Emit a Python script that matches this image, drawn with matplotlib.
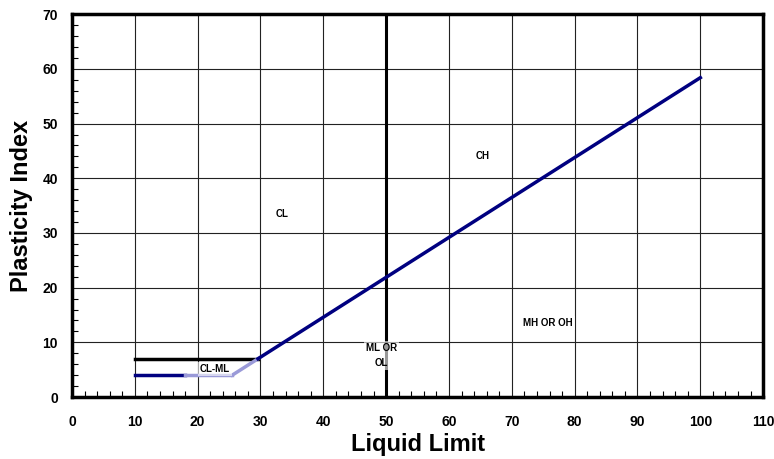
import matplotlib
matplotlib.use('Agg')
import matplotlib.pyplot as plt
from matplotlib.ticker import MultipleLocator

plt.rcParams['font.family'] = ['Liberation Sans', 'DejaVu Sans']
plt.rcParams['font.weight'] = 'bold'

# A-line and U-line style boundaries
a_line_x = [29.6, 100]
a_line_y = [7.0, 58.4]
a_low_x = [25.5, 29.6]
a_low_y = [4.0, 7.0]
flat4_solid_x = [10, 18]
flat4_faint_x = [18, 25.5]
flat4_y = 4.0
flat7_x = [10, 29.6]
flat7_y = 7.0
ll_split_x = 50
ll_split_y = [0, 70]

# zone labels
zone_text = ['CL', 'CH', 'MH OR OH', 'ML OR\nOL', 'CL-ML']
zone_x = [33.4, 65.3, 75.8, 49.2, 22.7]
zone_y = [33.5, 44.0, 13.5, 7.6, 5.1]

navy = '#000080'
faint = '#9a9ad8'

fig = plt.figure(figsize=(7.74, 4.59), dpi=100)
ax = fig.add_axes([0.093, 0.135, 0.893, 0.834])

ax.set_xlim(0, 110)
ax.set_ylim(0, 70)
ax.xaxis.set_major_locator(MultipleLocator(10))
ax.yaxis.set_major_locator(MultipleLocator(10))
ax.xaxis.set_minor_locator(MultipleLocator(2))
ax.yaxis.set_minor_locator(MultipleLocator(2))
ax.grid(True, which='major', color='#222222', lw=0.8)
ax.set_axisbelow(True)

ax.tick_params(which='both', direction='in', top=False, right=False)
ax.tick_params(which='major', length=0, labelsize=10)
ax.tick_params(axis='x', which='major', pad=13)
ax.tick_params(axis='y', which='major', pad=10)
ax.tick_params(which='minor', length=4, width=0.8)
for lab in ax.get_xticklabels() + ax.get_yticklabels():
    lab.set_fontweight('bold')
for sp in ax.spines.values():
    sp.set_linewidth(2.5)

ax.plot([ll_split_x, ll_split_x], ll_split_y, color='black', lw=2.2, zorder=3)
ax.plot(flat7_x, [flat7_y, flat7_y], color='black', lw=2.5, zorder=3)
ax.plot(flat4_solid_x, [flat4_y, flat4_y], color=navy, lw=2.5, zorder=3)
ax.plot(flat4_faint_x, [flat4_y, flat4_y], color=faint, lw=2.5, zorder=3)
ax.plot(a_low_x, a_low_y, color=faint, lw=2.5, zorder=3)
ax.plot(a_line_x, a_line_y, color=navy, lw=2.5, zorder=3)

for t, x, y in zip(zone_text, zone_x, zone_y):
    ax.text(x, y, t, fontsize=7, fontweight='bold', ha='center', va='center',
            linespacing=1.6, zorder=4,
            bbox=dict(facecolor='white', edgecolor='none', alpha=0.6, pad=1.5))

ax.set_xlabel('Liquid Limit', fontsize=17, fontweight='bold', labelpad=3)
ax.set_ylabel('Plasticity Index', fontsize=17, fontweight='bold', labelpad=7)

fig.savefig('out.png', dpi=100)
